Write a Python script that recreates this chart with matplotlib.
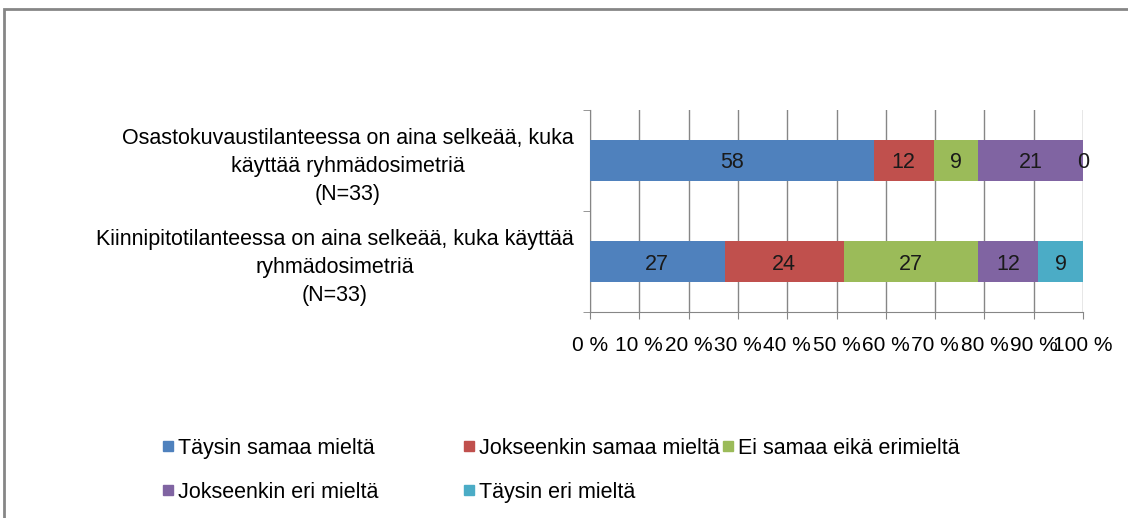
import matplotlib
matplotlib.use("Agg")
import matplotlib.pyplot as plt
from matplotlib.patches import Rectangle
import numpy as np

plt.rcParams['font.family'] = ['Liberation Sans', 'DejaVu Sans']

# Data (percent of respondents, N=33)
categories = [
    "Osastokuvaustilanteessa on aina selkeää, kuka\nkäyttää ryhmädosimetriä\n(N=33)",
    "Kiinnipitotilanteessa on aina selkeää, kuka käyttää\nryhmädosimetriä\n(N=33)",
]
series_names = ["Täysin samaa mieltä", "Jokseenkin samaa mieltä", "Ei samaa eikä erimieltä",
                "Jokseenkin eri mieltä", "Täysin eri mieltä"]
taysin_samaa = [57.6, 27.3]
jokseenkin_samaa = [12.1, 24.2]
ei_samaa_eika_eri = [9.1, 27.3]
jokseenkin_eri = [21.2, 12.1]
taysin_eri = [0.0, 9.1]
colors = ["#4F81BD", "#C0504D", "#9BBB59", "#8064A2", "#4BACC6"]
xticks = np.arange(0, 101, 10)

W, H = 1128, 518
fig = plt.figure(figsize=(W / 100, H / 100), dpi=100)
ax = fig.add_axes([590 / W, 1 - 312 / H, (1083 - 590) / W, (312 - 110) / H])

values = np.array([taysin_samaa, jokseenkin_samaa, ei_samaa_eika_eri, jokseenkin_eri, taysin_eri])
values = values / values.sum(axis=0) * 100  # 100 % stacked
ypos = np.array([1.5, 0.5])
left = np.zeros(len(categories))
for name, vals, c in zip(series_names, values, colors):
    ax.barh(ypos, vals, left=left, height=0.4, color=c, label=name, zorder=3)
    for y, l, v in zip(ypos, left, vals):
        ax.text(l + v / 2, y, f"{v:.0f}", ha='center', va='center_baseline', fontsize=15.5,
                color='#1a1a1a', zorder=4)
    left = left + vals

ax.set_xlim(0, 100)
ax.set_ylim(0, 2)
ax.set_xticks(xticks)
ax.set_xticklabels([f"{t} %" for t in xticks], fontsize=15)
ax.xaxis.grid(True, color='#868686', linewidth=1, zorder=0)
ax.set_yticks(ypos)
ax.set_yticklabels(categories, fontsize=15.5, multialignment='center', linespacing=1.45)
ax.set_yticks([0, 1, 2], minor=True)
ax.tick_params(axis='y', which='major', length=0, pad=12)
ax.tick_params(axis='y', which='minor', length=5, color='#868686')
ax.tick_params(axis='x', length=5, color='#868686', pad=12)
for s in ['top', 'right']:
    ax.spines[s].set_visible(False)
for s in ['left', 'bottom']:
    ax.spines[s].set_color('#868686')

# Legend, laid out like the original (two rows)
leg_pos = [(168, 446), (469, 446), (728, 446), (168, 490), (469, 490)]
for (px, py), name, c in zip(leg_pos, series_names, colors):
    fig.patches.append(Rectangle(((px - 5) / W, 1 - (py + 5) / H), 10 / W, 10 / H,
                                 transform=fig.transFigure, color=c))
    fig.text((px + 10) / W, 1 - py / H, name, fontsize=15.5, va='center_baseline', ha='left')

# chart border
fig.patches.append(Rectangle((4 / W, -0.1), 1.2, 1 - 9 / H + 0.1, transform=fig.transFigure,
                             fill=False, edgecolor='#868686', linewidth=2))

fig.savefig("out.png", dpi=100)
